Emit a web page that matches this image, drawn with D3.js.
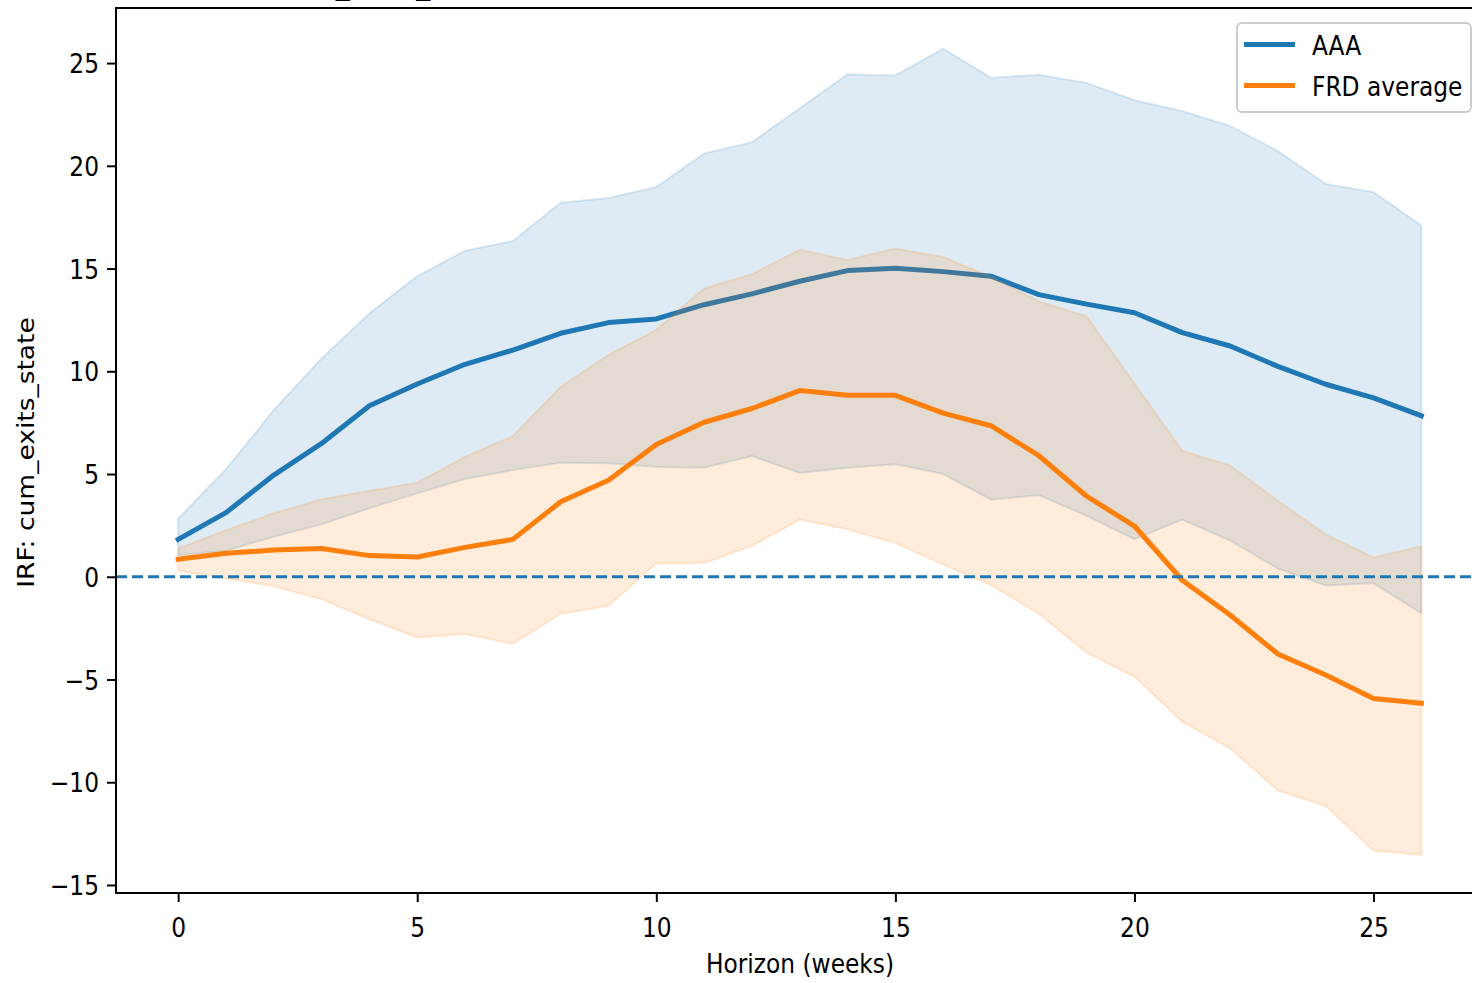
<!DOCTYPE html>
<html>
<head>
<meta charset="utf-8">
<script src="https://cdn.jsdelivr.net/npm/d3@7"></script>
<style>
  body { margin: 0; background: #fff; overflow: hidden; }
  svg { display: block; }
  text { font-family: "DejaVu Sans", sans-serif; fill: #000; }
</style>
</head>
<body>
<div id="chart"></div>
<script>
// horizon (weeks)
var weeks = d3.range(0, 27);

// AAA point estimate and band
var aaa      = [1.82, 3.12, 4.95, 6.49, 8.32, 9.38, 10.34, 11.03, 11.85, 12.37, 12.55, 13.24, 13.77, 14.38, 14.9, 15.02, 14.85, 14.63, 13.73, 13.27, 12.85, 11.88, 11.23, 10.24, 9.37, 8.71, 7.84];
var aaaUpper = [2.84, 5.23, 8.11, 10.63, 12.82, 14.63, 15.87, 16.34, 18.2, 18.43, 18.97, 20.6, 21.15, 22.8, 24.45, 24.4, 25.7, 24.29, 24.43, 24.03, 23.19, 22.67, 21.94, 20.72, 19.12, 18.72, 17.1];
var aaaLower = [1.05, 1.27, 1.95, 2.55, 3.33, 4.06, 4.76, 5.19, 5.55, 5.52, 5.34, 5.31, 5.87, 5.05, 5.31, 5.48, 5.0, 3.75, 3.97, 2.97, 1.83, 2.78, 1.76, 0.4, -0.42, -0.32, -1.78];

// FRD average point estimate and band
var frd      = [0.85, 1.14, 1.3, 1.38, 1.03, 0.96, 1.43, 1.82, 3.65, 4.7, 6.44, 7.52, 8.19, 9.06, 8.83, 8.83, 7.96, 7.35, 5.89, 3.92, 2.47, -0.17, -1.86, -3.76, -4.78, -5.92, -6.16];
var frdUpper = [1.38, 2.27, 3.09, 3.77, 4.19, 4.58, 5.84, 6.85, 9.25, 10.8, 12.02, 14.03, 14.73, 15.92, 15.42, 15.98, 15.56, 14.6, 13.41, 12.68, 9.4, 6.13, 5.42, 3.7, 2.06, 0.94, 1.49];
var frdLower = [0.3, -0.08, -0.45, -1.1, -2.07, -2.95, -2.79, -3.27, -1.8, -1.41, 0.64, 0.67, 1.5, 2.78, 2.31, 1.64, 0.6, -0.4, -1.8, -3.69, -4.86, -7.05, -8.35, -10.41, -11.16, -13.33, -13.54];

var seriesNames = ["AAA", "FRD average"];
var xTicks = [0, 5, 10, 15, 20, 25];
var yTicks = [-15, -10, -5, 0, 5, 10, 15, 20, 25];
var titleText = "IRF: cum_exits_state";
var xLabel = "Horizon (weeks)";
var yLabel = "IRF: cum_exits_state";

var colors = ["#1f77b4", "#ff7f0e"];
var fs = 26.5, squash = 0.88;   // picture text is a bit narrower than tall

var margin = {top: 8, left: 116},
    width = 1367.5,
    height = 885;

var svg = d3.select("#chart").append("svg")
    .attr("width", 1472)
    .attr("height", 983);

var g = svg.append("g")
    .attr("transform", "translate(" + margin.left + "," + margin.top + ")");

var x = d3.scaleLinear().domain([-1.3, 27.3]).range([0, width]),
    y = d3.scaleLinear().domain([-15.39, 27.68]).range([height, 0]);

var series = [
  {name: seriesNames[0], mid: aaa, lo: aaaLower, hi: aaaUpper, color: colors[0]},
  {name: seriesNames[1], mid: frd, lo: frdLower, hi: frdUpper, color: colors[1]}
];

var line = d3.line()
    .x(function(d) { return x(d[0]); })
    .y(function(d) { return y(d[1]); });

var area = d3.area()
    .x(function(d) { return x(d[0]); })
    .y0(function(d) { return y(d[1]); })
    .y1(function(d) { return y(d[2]); });

series.forEach(function(s) {
  var pts = weeks.map(function(w, i) { return [w, s.mid[i]]; });
  var band = weeks.map(function(w, i) { return [w, s.lo[i], s.hi[i]]; });

  g.append("path")
      .attr("d", line(pts))
      .attr("fill", "none")
      .attr("stroke", s.color)
      .attr("stroke-width", 5)
      .attr("stroke-linejoin", "round")
      .attr("stroke-linecap", "square");

  g.append("path")
      .attr("d", area(band))
      .attr("fill", s.color)
      .attr("fill-opacity", 0.15)
      .attr("stroke", s.color)
      .attr("stroke-opacity", 0.15)
      .attr("stroke-width", 2);
});

// zero line
g.append("line")
    .attr("x1", 0)
    .attr("x2", width)
    .attr("y1", y(0))
    .attr("y2", y(0))
    .attr("stroke", colors[0])
    .attr("stroke-width", 3)
    .attr("stroke-dasharray", "11,5");

// axes
var xAxis = g.append("g")
    .attr("transform", "translate(0," + height + ")")
    .call(d3.axisBottom(x).tickValues(xTicks).tickSize(9).tickSizeOuter(0));

var yAxis = g.append("g")
    .call(d3.axisLeft(y).tickValues(yTicks).tickSize(9).tickSizeOuter(0));

[xAxis, yAxis].forEach(function(a) {
  a.select(".domain").remove();
  a.selectAll(".tick line").attr("stroke", "#000").attr("stroke-width", 2);
  a.selectAll(".tick text")
      .attr("font-family", "DejaVu Sans")
      .attr("font-size", fs)
      .attr("fill", "#000");
});

xAxis.selectAll(".tick text")
    .attr("y", 0)
    .attr("dy", 0)
    .attr("transform", "translate(0,43.5) scale(" + squash + ",1)");

yAxis.selectAll(".tick text")
    .attr("x", 0)
    .attr("dy", "0.36em")
    .attr("text-anchor", "end")
    .attr("transform", "translate(-17,0) scale(" + squash + ",1)");

// spines: left, top, bottom (right one falls outside the picture)
g.append("path")
    .attr("d", "M" + width + ",0H0V" + height + "H" + width)
    .attr("fill", "none")
    .attr("stroke", "#000")
    .attr("stroke-width", 2);

// labels
svg.append("text")
    .attr("transform", "translate(800,973) scale(" + squash + ",1)")
    .attr("text-anchor", "middle")
    .attr("font-size", fs)
    .text(xLabel);

svg.append("text")
    .attr("transform", "translate(33.5,452.5) scale(" + squash + ",1) rotate(-90)")
    .attr("text-anchor", "middle")
    .attr("font-size", fs)
    .text(yLabel);

// title sits mostly above the picture, only underscores peek in
svg.append("text")
    .attr("transform", "translate(215.5,-7) scale(" + squash + ",1)")
    .attr("font-size", fs * 1.2)
    .text(titleText);

// legend
var legend = svg.append("g");

legend.append("rect")
    .attr("x", 1237)
    .attr("y", 23)
    .attr("width", 234)
    .attr("height", 89)
    .attr("rx", 5)
    .attr("fill", "#fff")
    .attr("fill-opacity", 0.8)
    .attr("stroke", "#cccccc")
    .attr("stroke-width", 2);

var item = legend.selectAll(".item")
    .data(series)
  .enter().append("g")
    .attr("class", "item")
    .attr("transform", function(d, i) { return "translate(0," + (44.5 + i * 41) + ")"; });

item.append("line")
    .attr("x1", 1244)
    .attr("x2", 1295)
    .attr("stroke", function(d) { return d.color; })
    .attr("stroke-width", 5);

item.append("text")
    .attr("transform", "translate(1312,10) scale(" + squash + ",1)")
    .attr("font-size", fs)
    .text(function(d) { return d.name; });
</script>
</body>
</html>
